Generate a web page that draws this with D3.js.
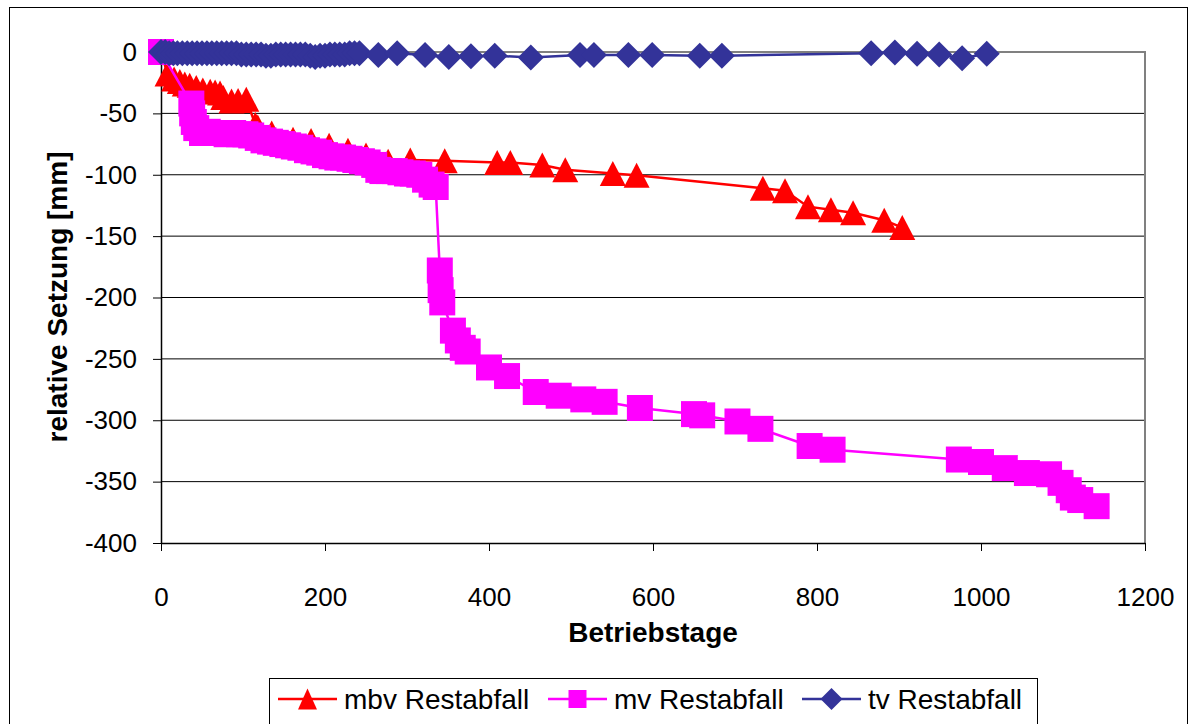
<!DOCTYPE html>
<html>
<head>
<meta charset="utf-8">
<script src="https://cdn.jsdelivr.net/npm/d3@7"></script>
<style>
  body { margin: 0; background: #fff; }
  svg { display: block; font-family: "Liberation Sans", Arial, sans-serif; }
</style>
</head>
<body>
<div id="chart"></div>
<script>
// days / relative settlement [mm] for each series
const mbvDays = [0, 8, 16, 23, 29, 35, 43, 51, 60, 66, 72, 76, 86, 94, 104, 115, 118, 135, 161, 183, 205, 228, 250, 277, 304, 346, 410, 426, 465, 493, 551, 580, 734, 761, 789, 817, 844, 882, 904];
const mbvValues = [0, -18, -22, -24, -26, -27, -29, -31, -32, -32.5, -33.5, -37, -40, -39.5, -38.5, -59, -61, -66, -71, -72, -76, -80, -84, -89, -88, -88.5, -90, -90, -92, -96, -99, -100.5, -111, -113, -126, -128.5, -131, -137, -143];

const mvDays = [0, 37, 38, 40, 43, 50, 57, 64, 72, 80, 88, 95, 103, 110, 118, 125, 133, 140, 148, 155, 162, 170, 178, 186, 193, 200, 208, 215, 222, 230, 237, 245, 252, 260, 265, 270, 278, 285, 292, 300, 307, 315, 322, 330, 335, 340, 341, 343, 356, 362, 368, 374, 400, 422, 457, 485, 515, 541, 584, 650, 660, 703, 731, 791, 819, 973, 1000, 1029, 1056, 1083, 1097, 1107, 1112, 1121, 1141];
const mvValues = [0, -42, -50, -57, -62, -66, -65, -66, -66, -67, -66, -67, -67, -68, -70, -72, -73, -74, -75, -76, -77, -78, -80, -81, -82, -84, -85, -86, -86, -87, -88, -89, -90, -92, -96, -97, -97, -97, -98, -99, -99, -100, -104, -108, -110, -178, -194, -204, -227, -235, -241, -244, -257, -264, -277, -280, -283, -285, -290, -295, -296, -301, -307, -321, -324, -332, -334, -339, -343, -344, -351, -357, -363, -365, -370];

const tvDays = [0, 5, 10, 15, 20, 26, 32, 38, 44, 50, 56, 62, 68, 74, 80, 86, 92, 98, 104, 110, 116, 122, 128, 134, 140, 146, 152, 158, 164, 170, 176, 182, 188, 194, 200, 206, 212, 218, 224, 230, 236, 242, 265, 288, 322, 351, 378, 407, 451, 511, 528, 570, 599, 657, 684, 866, 895, 922, 949, 977, 1007];
const tvValues = [0, 0, -1, -1, -1, -1, -1, -1, -1, -1, -1, -1, -1, -1, -1, -1, -1, -2, -2, -2, -2, -2, -3, -3, -2, -2, -2, -2, -2, -2, -2, -3, -4, -3, -3, -2, -2, -2, -2, -1, -1, -1, -2.5, -1, -2.5, -4, -3.5, -3, -4.5, -2.5, -2.5, -2.5, -2.5, -3, -3, -1, -0.5, -1.5, -2, -5, -1.5];

const seriesNames = ["mbv Restabfall", "mv Restabfall", "tv Restabfall"];
const xTicks = [0, 200, 400, 600, 800, 1000, 1200];
const yTicks = [0, -50, -100, -150, -200, -250, -300, -350, -400];

const width = 1196;
const height = 724;
const plot = { left: 161, right: 1145, top: 52, bottom: 543 };

const series = [
  { name: seriesNames[0], days: mbvDays, values: mbvValues, color: "#ff0000", shape: "triangle" },
  { name: seriesNames[1], days: mvDays, values: mvValues, color: "#ff00ff", shape: "square" },
  { name: seriesNames[2], days: tvDays, values: tvValues, color: "#333399", shape: "diamond" },
];

const svg = d3.select("#chart").append("svg")
  .attr("width", width)
  .attr("height", height);

// outer chart frame
svg.append("rect")
  .attr("x", 9.5).attr("y", 7.5)
  .attr("width", 1178).attr("height", 730)
  .attr("fill", "#fff").attr("stroke", "#000");

const x = d3.scaleLinear().domain([0, 1200]).range([plot.left, plot.right]);
const y = d3.scaleLinear().domain([-400, 0]).range([plot.bottom, plot.top]);

// gridlines
svg.append("g")
  .selectAll("line")
  .data(yTicks.filter(d => d !== -400 && d !== 0))
  .join("line")
  .attr("x1", plot.left).attr("x2", plot.right)
  .attr("y1", d => y(d)).attr("y2", d => y(d))
  .attr("stroke", "#000").attr("stroke-width", 1);

// plot area frame (top + right in grey)
svg.append("path")
  .attr("d", `M${plot.left},${plot.top}H${plot.right}V${plot.bottom}`)
  .attr("fill", "none").attr("stroke", "#808080").attr("stroke-width", 2);

// y axis
const yAxis = svg.append("g")
  .attr("transform", `translate(${plot.left},0)`)
  .call(d3.axisLeft(y).tickValues(yTicks).tickSize(8).tickSizeOuter(0).tickPadding(16).tickFormat(d => String(d)));

// x axis
const xAxis = svg.append("g")
  .attr("transform", `translate(0,${plot.bottom})`)
  .call(d3.axisBottom(x).tickValues(xTicks).tickSize(8).tickSizeOuter(0).tickPadding(37).tickFormat(d => String(d)));

[yAxis, xAxis].forEach(g => {
  g.select(".domain").attr("stroke", "#000").attr("stroke-width", 1.5);
  g.selectAll(".tick line").attr("stroke", "#000");
  g.selectAll(".tick text")
    .attr("fill", "#000")
    .attr("font-size", 26)
    .attr("font-family", "Liberation Sans, Arial, sans-serif");
});
xAxis.selectAll(".tick text").attr("dy", "0.71em");

// axis titles
svg.append("text")
  .attr("transform", "translate(67,297) rotate(-90)")
  .attr("text-anchor", "middle")
  .attr("font-size", 28).attr("font-weight", "bold")
  .text("relative Setzung [mm]");

svg.append("text")
  .attr("x", (plot.left + plot.right) / 2).attr("y", 642)
  .attr("text-anchor", "middle")
  .attr("font-size", 28).attr("font-weight", "bold")
  .text("Betriebstage");

// marker paths
function markerPath(shape, w, h) {
  const a = w / 2, b = (h || w) / 2;
  if (shape === "triangle") return `M0,${-b}L${a},${b}L${-a},${b}Z`;
  if (shape === "square") return `M${-a},${-b}H${a}V${b}H${-a}Z`;
  return `M0,${-b}L${a},0L0,${b}L${-a},0Z`;
}

const line = d3.line()
  .x(d => x(d[0]))
  .y(d => y(d[1]));

// draw each series: line then markers, later series on top
series.forEach(s => {
  const pts = s.days.map((d, i) => [d, s.values[i]]);
  const g = svg.append("g");
  g.append("path")
    .datum(pts)
    .attr("d", line)
    .attr("fill", "none")
    .attr("stroke", s.color)
    .attr("stroke-width", 2.5);
  g.selectAll("path.marker")
    .data(pts)
    .join("path")
    .attr("class", "marker")
    .attr("transform", d => `translate(${x(d[0])},${y(d[1])})`)
    .attr("d", markerPath(s.shape, 26, s.shape === "triangle" ? 25 : 26))
    .attr("fill", s.color);
});

// legend
const legend = svg.append("g");
legend.append("rect")
  .attr("x", 269.5).attr("y", 678.5)
  .attr("width", 768).attr("height", 60)
  .attr("fill", "#fff").attr("stroke", "#000");

const legendX = [278, 548, 802];
const legendMarkers = [[19, 21], [18, 18], [22, 22]];
series.forEach((s, i) => {
  const lg = legend.append("g").attr("transform", `translate(${legendX[i]},699)`);
  lg.append("line")
    .attr("x1", 0).attr("x2", 59)
    .attr("stroke", s.color).attr("stroke-width", 2.5);
  lg.append("path")
    .attr("transform", "translate(29.5,0)")
    .attr("d", markerPath(s.shape, legendMarkers[i][0], legendMarkers[i][1]))
    .attr("fill", s.color);
  lg.append("text")
    .attr("x", 66).attr("y", 0).attr("dy", "0.36em")
    .attr("font-size", 28)
    .text(s.name);
});
</script>
</body>
</html>
